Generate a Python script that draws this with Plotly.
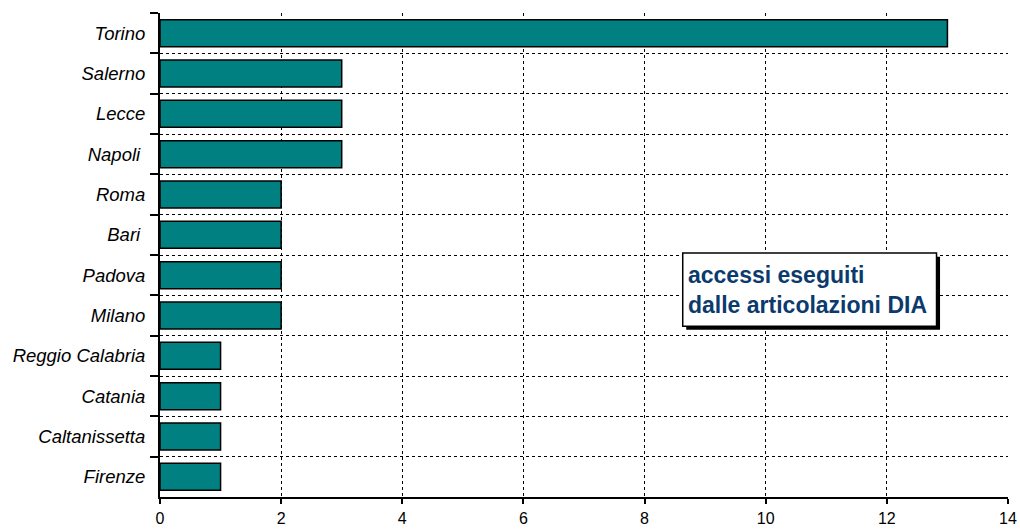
import plotly.graph_objects as go

cities = ["Torino", "Salerno", "Lecce", "Napoli ", "Roma", "Bari ", "Padova", "Milano",
          "Reggio Calabria", "Catania", "Caltanissetta", "Firenze"]
accessi = [13, 3, 3, 3, 2, 2, 2, 2, 1, 1, 1, 1]
x_ticks = [0, 2, 4, 6, 8, 10, 12, 14]

fig = go.Figure()
fig.add_trace(go.Bar(
    y=cities, x=accessi, orientation="h", width=0.67,
    marker=dict(color="#008080", line=dict(color="black", width=1.5)),
))

fig.update_layout(
    width=1020, height=529,
    margin=dict(l=160, r=12, t=13, b=32),
    paper_bgcolor="white", plot_bgcolor="white",
    showlegend=False,
    font=dict(family="Liberation Sans, Arial, sans-serif", color="black"),
)
fig.update_xaxes(
    automargin=False,
    range=[0, 14], tickvals=x_ticks, ticktext=[str(v) for v in x_ticks],
    showgrid=True, gridcolor="black", gridwidth=1, griddash="dot",
    showline=True, linecolor="black", linewidth=2,
    ticks="outside", ticklen=5, tickcolor="black", tickwidth=2,
    tickfont=dict(size=16), ticklabelstandoff=1, zeroline=False,
)
fig.update_yaxes(
    automargin=False,
    autorange=False, range=[11.5, -0.5], type="category",
    tickson="boundaries", showgrid=True, gridcolor="black", gridwidth=1, griddash="dot",
    showline=True, linecolor="black", linewidth=2,
    ticks="outside", ticklen=8, tickcolor="black", tickwidth=2,
    tickfont=dict(size=18.5, style="italic"), ticklabelstandoff=9,
)

# text box with drop shadow
x0, x1, y0, y1 = 8.63, 12.82, 0.353, 0.504
fig.add_shape(type="rect", xref="x", yref="paper", x0=x0 + 0.058, x1=x1 + 0.058,
              y0=y0 - 0.0075, y1=y1 - 0.0075, fillcolor="black", line=dict(width=0), layer="above")
fig.add_shape(type="rect", xref="x", yref="paper", x0=x0, x1=x1, y0=y0, y1=y1,
              fillcolor="white", line=dict(color="black", width=1.5), layer="above")
fig.add_annotation(
    xref="x", yref="paper", x=x0 + 0.06, y=(y0 + y1) / 2, xanchor="left", yanchor="middle",
    text="<b>accessi eseguiti<br>dalle articolazioni DIA</b>", align="left", showarrow=False,
    font=dict(size=23, color="#0B3A6E", family="Liberation Sans, Arial, sans-serif"),
)

# remove the default page margin so the figure sits at the window's top-left corner
fig.write_html("out.html", config={"displayModeBar": False},
               post_script="document.body.style.margin='0';")
